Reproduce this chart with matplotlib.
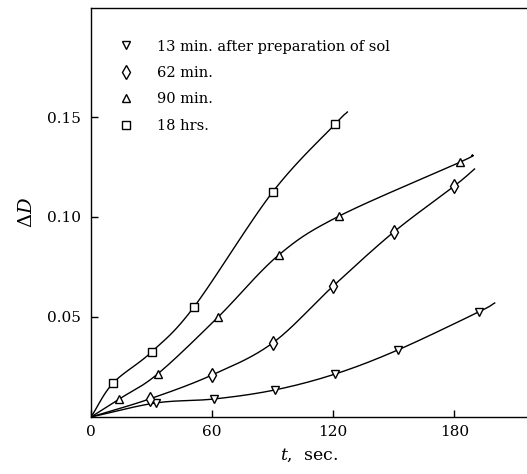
import numpy as np
import matplotlib
matplotlib.use("Agg")
import matplotlib.pyplot as plt

plt.rcParams['font.family'] = ['DejaVu Serif']
plt.rcParams['mathtext.fontset'] = 'dejavuserif'

# measured points (t in sec, delta D)
t_13 = [32, 61, 91, 121, 152, 192]
d_13 = [0.007, 0.009, 0.0135, 0.0215, 0.0335, 0.0525]
t_62 = [29, 60, 90, 120, 150, 180]
d_62 = [0.009, 0.021, 0.037, 0.0655, 0.0925, 0.1155]
t_90 = [14, 33, 63, 93, 123, 183]
d_90 = [0.009, 0.0215, 0.050, 0.081, 0.1005, 0.1275]
t_18h = [11, 30, 51, 90, 121]
d_18h = [0.017, 0.0325, 0.055, 0.1125, 0.1465]

# where each drawn curve stops
end_t = [200, 190, 189, 127]
end_d = [0.057, 0.124, 0.131, 0.1525]

labels = ["13 min. after preparation of sol", "62 min.", "90 min.", "18 hrs."]
markers = ["v", "d", "^", "s"]
msizes = [6, 7, 6, 5.5]


def smooth(xs, ys, n=20):
    # catmull-rom through the points, just for drawing the curve
    x = np.array(xs, float)
    y = np.array(ys, float)
    px = np.concatenate([[2 * x[0] - x[1]], x, [2 * x[-1] - x[-2]]])
    py = np.concatenate([[2 * y[0] - y[1]], y, [2 * y[-1] - y[-2]]])
    ox, oy = [], []
    s = np.linspace(0, 1, n, endpoint=False)
    for i in range(1, len(px) - 2):
        for arr, out in ((px, ox), (py, oy)):
            p0, p1, p2, p3 = arr[i - 1], arr[i], arr[i + 1], arr[i + 2]
            out.extend(0.5 * (2 * p1 + (-p0 + p2) * s
                              + (2 * p0 - 5 * p1 + 4 * p2 - p3) * s ** 2
                              + (-p0 + 3 * p1 - 3 * p2 + p3) * s ** 3))
    ox.append(x[-1])
    oy.append(y[-1])
    return ox, oy


fig = plt.figure(figsize=(5.27, 4.74), dpi=100)
ax = fig.add_axes([0.1727, 0.1203, 0.8273, 0.8628])

series = [(t_13, d_13), (t_62, d_62), (t_90, d_90), (t_18h, d_18h)]
for i, (ts, ds) in enumerate(series):
    cx, cy = smooth([0] + ts + [end_t[i]], [0] + ds + [end_d[i]])
    ax.plot(cx, cy, color='black', lw=1.0)
    ax.plot(ts, ds, linestyle='none', marker=markers[i], ms=msizes[i],
            mfc='white', mec='black', mew=1.0, label=labels[i])

ax.set_xlim(0, 216)
ax.set_ylim(0, 0.2045)
ax.set_xticks([0, 60, 120, 180])
ax.set_xticklabels(["0", "60", "120", "180"])
ax.set_yticks([0.05, 0.10, 0.15])
ax.set_yticklabels(["0.05", "0.10", "0.15"])
ax.tick_params(direction='in', length=5, width=1, labelsize=11, pad=6)
ax.tick_params(axis='y', pad=7)
ax.spines['right'].set_visible(False)
for sp in ('left', 'bottom', 'top'):
    ax.spines[sp].set_linewidth(1.0)

ax.set_xlabel(r"$t$,  sec.", fontsize=12.5, labelpad=5)
ax.set_ylabel(r"$\Delta D$", fontsize=14, labelpad=8)

ax.legend(loc='upper left', bbox_to_anchor=(0.03, 0.955), frameon=False,
          fontsize=10.5, labelspacing=0.85, handletextpad=1.5, handlelength=1.2)

fig.savefig("out.png", dpi=100)
